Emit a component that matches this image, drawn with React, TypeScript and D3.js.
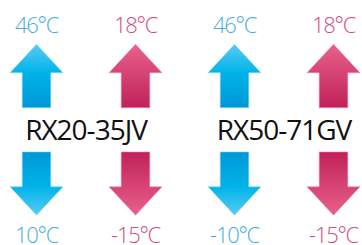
import React from "react";
import * as d3 from "d3";

// models and their operating ranges (°C)
const models = ["RX20-35JV", "RX50-71GV"];
const coolingMax = [46, 46];
const coolingMin = [10, -10];
const heatingMax = [18, 18];
const heatingMin = [-15, -15];

const W = 362;
const H = 245;

const cols = d3.scalePoint<string>()
  .domain(["c0", "h0", "c1", "h1"])
  .range([36.5, 333.5]);

const HEAD_W = 53;
const SHAFT_W = 28.6;
const HEAD_H = 28.5;
const LEN = 63.4;

// arrow pointing up (dir=-1) or down (dir=1), tip at (cx, tipY)
function arrow(cx: number, tipY: number, dir: number) {
  const p = d3.path();
  const baseY = tipY - dir * HEAD_H;
  const endY = tipY - dir * LEN;
  p.moveTo(cx, tipY);
  p.lineTo(cx + HEAD_W / 2, baseY);
  p.lineTo(cx + SHAFT_W / 2, baseY);
  p.lineTo(cx + SHAFT_W / 2, endY);
  p.lineTo(cx - SHAFT_W / 2, endY);
  p.lineTo(cx - SHAFT_W / 2, baseY);
  p.lineTo(cx - HEAD_W / 2, baseY);
  p.closePath();
  return p.toString();
}

const fmt = (v: number) => `${v}°C`;

export default function App() {
  const blueTxt = "#45ade2";
  const pinkTxt = "#d24d79";
  return (
    <svg width={W} height={H} style={{ position: "absolute", left: 0, top: 0 }}>
      <defs>
        <linearGradient id="blueUp" x1="0" y1="0" x2="0" y2="1">
          <stop offset="0" stopColor="#5acbf2" />
          <stop offset="0.45" stopColor="#00b3e9" />
          <stop offset="1" stopColor="#0096d6" />
        </linearGradient>
        <linearGradient id="blueDown" x1="0" y1="1" x2="0" y2="0">
          <stop offset="0" stopColor="#5acbf2" />
          <stop offset="0.45" stopColor="#00b3e9" />
          <stop offset="1" stopColor="#0096d6" />
        </linearGradient>
        <linearGradient id="pinkUp" x1="0" y1="0" x2="0" y2="1">
          <stop offset="0" stopColor="#e9618a" />
          <stop offset="1" stopColor="#c0215a" />
        </linearGradient>
        <linearGradient id="pinkDown" x1="0" y1="1" x2="0" y2="0">
          <stop offset="0" stopColor="#e9618a" />
          <stop offset="1" stopColor="#c0215a" />
        </linearGradient>
      </defs>
      {models.map((m, i) => {
        const cx = cols("c" + i)!;
        const hx = cols("h" + i)!;
        const mid = (cx + hx) / 2;
        return (
          <g key={m}>
            <path d={arrow(cx, 44.3, -1)} fill="url(#blueUp)" stroke="#8fdcf7" strokeWidth={0.6} />
            <path d={arrow(hx, 44.3, -1)} fill="url(#pinkUp)" stroke="#ee8fae" strokeWidth={0.6} />
            <path d={arrow(cx, 215.3, 1)} fill="url(#blueDown)" stroke="#8fdcf7" strokeWidth={0.6} />
            <path d={arrow(hx, 215.3, 1)} fill="url(#pinkDown)" stroke="#ee8fae" strokeWidth={0.6} />
            <g fontFamily="'Open Sans', sans-serif" fontWeight={300} fontSize={22}
              letterSpacing={-1.3} textAnchor="middle">
              <text x={cx} y={32.7} fill={blueTxt}>{fmt(coolingMax[i])}</text>
              <text x={hx} y={32.7} fill={pinkTxt}>{fmt(heatingMax[i])}</text>
              <text x={cx} y={242.8} fill={blueTxt}>{fmt(coolingMin[i])}</text>
              <text x={hx} y={242.8} fill={pinkTxt}>{fmt(heatingMin[i])}</text>
            </g>
            <text x={mid} y={140} textAnchor="middle" fontFamily="'Open Sans', sans-serif"
              fontSize={28} letterSpacing={-1} fill="#111">{m}</text>
          </g>
        );
      })}
    </svg>
  );
}
